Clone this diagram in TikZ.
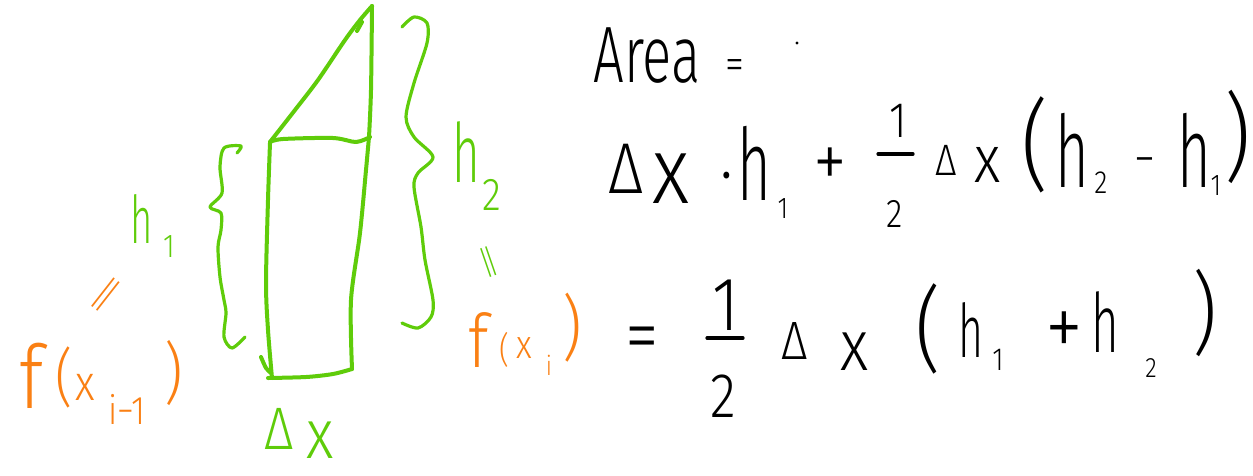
\documentclass[tikz,border=0pt]{standalone}
\usepackage{fontspec}
\newfontfamily\hand[FakeStretch=0.85]{Fira Sans Light}
\definecolor{pen}{RGB}{95,204,10}
\definecolor{ora}{RGB}{250,128,20}
\newcommand{\nh}{\scalebox{0.68}[1]{h}}
\begin{document}
\begin{tikzpicture}[x=1pt,y=-1pt,
  tok/.style={inner sep=0pt, anchor=base},
  sz/.style={font={\hand\fontsize{#1}{#1}\selectfont}},
  gline/.style={draw=pen, line width=4pt, line cap=round, line join=round},
  gbrace/.style={draw=pen, line width=3.2pt, line cap=round, line join=round},
  ink/.style={draw=black, line width=3.2pt, line cap=round}]
\fill[white] (0,0) rectangle (1253,475);
\useasboundingbox (0,0) rectangle (1253,475);

% ---- green figure ----
\draw[gline] plot[smooth, tension=0.5] coordinates {(270,143) (268,200) (266,283) (268,330) (272,378)};
\draw[gline] plot[smooth, tension=0.5] coordinates {(261,357) (266,368) (271,373)};
\draw[gline] plot[smooth, tension=0.5] coordinates {(268,378) (306,377) (333,374) (352,369)};
\draw[gline] plot[smooth, tension=0.5] coordinates {(352,369) (351,300) (360,233) (366,170) (369,137)};
\draw[gline] plot[smooth, tension=0.5] coordinates {(270,142) (283,139) (333,138) (356,142) (370,137)};
\draw[gline] plot[smooth, tension=0.5] coordinates {(369,137) (371,90) (372,6)};
\draw[gline] plot[smooth, tension=0.5] coordinates {(270,142) (295,110) (318,80) (345,40) (360,20) (372,6)};
\draw[gline] (357,31) -- (362,22);

% left brace
\draw[gbrace] plot[smooth, tension=0.5] coordinates {(237,153) (241,146) (224,148) (220,167) (222,193) (210,207) (221,213) (221,230) (218,247) (220,277) (224,300) (226,313) (224,337) (232,348) (245,337)};
% right brace
\draw[gbrace] plot[smooth, tension=0.5] coordinates {(402,27) (414,17) (427,23) (427,43) (414,83) (406,117) (414,137) (433,157) (418,173) (414,187) (421,227) (425,260) (433,300) (431,317) (418,328) (402,323)};

% green labels
\node[tok, sz=66, text=pen] (h1h) at (142,243) {\nh};
\node[tok, sz=33, text=pen] (h1s) at (169,257) {1};
\node[tok, sz=82, text=pen] (h2h) at (466,182) {\nh};
\node[tok, sz=46, text=pen] (h2s) at (492,210) {2};
\node[tok, sz=60, text=pen] (dxD) at (279,449) {Δ};
\node[tok, sz=70, text=pen] (dxX) at (320,458) {x};
\node[inner sep=0pt, sz=50, text=pen, rotate=-71] (geq) at (486,263) {\scalebox{2.0}[0.6]{=}};

% orange labels
\node[inner sep=0pt, sz=50, text=ora, rotate=52] (oeq) at (109,297) {\scalebox{2.4}[0.7]{=}};
\node[tok, sz=88, text=ora] (fa) at (32,408) {f};
\node[tok, sz=63, text=ora] (pa) at (64,399) {(};
\node[tok, sz=50, text=ora] (xa) at (85,400) {x};
\node[tok, sz=40, text=ora] (ia) at (127,424) {i−1};
\node[tok, sz=67, text=ora] (qa) at (174,396) {)};
\node[tok, sz=74, text=ora] (fb) at (479,367) {f};
\node[tok, sz=36, text=ora] (pb) at (504,362) {(};
\node[tok, sz=40, text=ora] (xb) at (524,358) {x};
\node[tok, sz=27, text=ora] (ib) at (549,375) {i};
\node[tok, sz=71, text=ora] (qb) at (572,352) {)};

% ---- black: line 1 ----
\node[tok, sz=80] (area) at (647,82) {\scalebox{0.8}[1]{Area}};
\node[tok, sz=45] (eq1) at (735,79) {=};
\fill (797,43) circle (1.6);

% ---- line 2 ----
\node[tok, sz=72] (l2D) at (626,193) {Δ};
\node[tok, sz=95] (l2x) at (671,203) {x};
\node[tok, sz=72] (l2dot) at (727,198) {·};
\node[tok, sz=100] (l2h) at (754,200) {\nh};
\node[tok, sz=30] (l2s) at (783,218) {1};
\node[tok, sz=80] (l2p) at (830,188) {+};
\node[tok, sz=50] (l2n) at (898,137) {1};
\draw[ink] (878,154) -- (913,154);
\node[tok, sz=40] (l2d) at (895,227) {2};
\node[tok, sz=44] (l2D2) at (946,175) {Δ};
\node[tok, sz=67] (l2x2) at (988,182) {x};
\node[tok, sz=99] (l2o) at (1035,179) {(};
\node[tok, sz=100] (l2h2) at (1072,187) {\nh};
\node[tok, sz=32] (l2s2) at (1101,193) {2};
\node[tok, sz=50] (l2m) at (1145,175) {−};
\node[tok, sz=100] (l2h3) at (1194,187) {\nh};
\node[tok, sz=30] (l2s3) at (1216,195) {1};
\node[tok, sz=96] (l2c) at (1238,170) {)};

% ---- line 3 ----
\node[tok, sz=80] (eq3) at (642,362) {=};
\node[tok, sz=76] (l3n) at (726,330) {1};
\draw[ink] (707,338) -- (743,338);
\node[tok, sz=63] (l3d) at (723,417) {2};
\node[tok, sz=54] (l3D) at (795,359) {Δ};
\node[tok, sz=72] (l3x) at (855,370) {x};
\node[tok, sz=93] (l3o) at (928,361) {(};
\node[tok, sz=74] (l3h) at (971,357) {\nh};
\node[tok, sz=32] (l3s) at (998,370) {1};
\node[tok, sz=90] (l3p) at (1064,357) {+};
\node[tok, sz=82] (l3h2) at (1105,352) {\nh};
\node[tok, sz=28] (l3s2) at (1151,377) {2};
\node[tok, sz=90] (l3c) at (1205,344) {)};
\end{tikzpicture}
\end{document}
